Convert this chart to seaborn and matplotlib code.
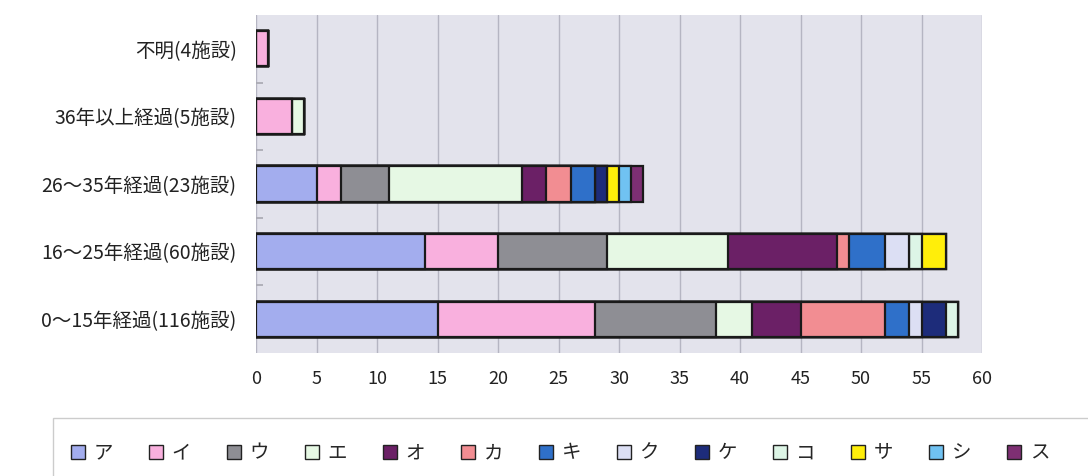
import matplotlib
matplotlib.use("Agg")
import matplotlib.pyplot as plt
import matplotlib.patches as mpatches
import seaborn as sns
import pandas as pd
import numpy as np

sns.set_style("white")
plt.rcParams['font.family'] = ['Noto Sans CJK JP', 'DejaVu Sans']

categories = ["不明(4施設)", "36年以上経過(5施設)", "26～35年経過(23施設)",
              "16～25年経過(60施設)", "0～15年経過(116施設)"]
series = ["ア", "イ", "ウ", "エ", "オ", "カ", "キ", "ク", "ケ", "コ", "サ", "シ", "ス"]
colors = ["#A3ADEE", "#F9B0DE", "#8E8E94", "#E6F8E4", "#6B2066", "#F28D92",
          "#2F70C9", "#DCDFF4", "#1D2C7A", "#DDF5E6", "#FFEE0A", "#70C2F2", "#7E2F73"]

# values per series, in category order
v_a = [0, 0, 5, 14, 15]
v_i = [1, 3, 2, 6, 13]
v_u = [0, 0, 4, 9, 10]
v_e = [0, 1, 11, 10, 3]
v_o = [0, 0, 2, 9, 4]
v_ka = [0, 0, 2, 1, 7]
v_ki = [0, 0, 2, 3, 2]
v_ku = [0, 0, 0, 2, 1]
v_ke = [0, 0, 1, 0, 2]
v_ko = [0, 0, 0, 1, 1]
v_sa = [0, 0, 1, 2, 0]
v_shi = [0, 0, 1, 0, 0]
v_su = [0, 0, 1, 0, 0]
values = [v_a, v_i, v_u, v_e, v_o, v_ka, v_ki, v_ku, v_ke, v_ko, v_sa, v_shi, v_su]

cum = np.cumsum(np.array(values), axis=0)

fig = plt.figure(figsize=(10.88, 4.76), dpi=100)
ax = fig.add_axes([256/1088, 1-353/476, (982-256)/1088, (353-15)/476])
ax.set_facecolor("#E3E3EC")

for i in range(len(series) - 1, -1, -1):
    df = pd.DataFrame({"cat": categories, "val": cum[i]})
    sns.barplot(data=df, x="val", y="cat", orient="h", color=colors[i],
                saturation=1, width=0.52, edgecolor="#1a1a1a", linewidth=1.6,
                ax=ax, zorder=3)

ax.set_xlim(0, 60)
ax.set_xticks(range(0, 61, 5))
ax.xaxis.grid(True, color="#B5B5C2", linewidth=1.0, zorder=0)
ax.set_axisbelow(True)
for s in ax.spines.values():
    s.set_visible(False)
ax.set_xlabel("")
ax.set_ylabel("")
ax.tick_params(axis="x", length=0, labelsize=13, colors="#222222", pad=12)
ax.tick_params(axis="y", length=0, labelsize=14, colors="#222222", pad=14)
# small separators on left between categories
ax.set_yticks([0.5, 1.5, 2.5, 3.5], minor=True)
ax.tick_params(axis="y", which="minor", left=True, length=5, width=1.2,
               color="#A8A8B0", direction="in")

# legend frame
frame = mpatches.Rectangle((53/1088, -0.05), 1.0, (476-418)/476 + 0.05,
                           transform=fig.transFigure, facecolor="white",
                           edgecolor="#CCCCCC", linewidth=1.0)
fig.add_artist(frame)

handles = [mpatches.Patch(facecolor=c, edgecolor="#222222", linewidth=1.0, label=s)
           for s, c in zip(series, colors)]
leg = fig.legend(handles=handles, loc="center left", bbox_to_anchor=(71/1088, 1-453/476),
                 ncol=13, frameon=False, fontsize=14, handlelength=0.7,
                 handleheight=0.7, handletextpad=0.45, columnspacing=1.86,
                 borderaxespad=0, borderpad=0)

fig.savefig("out.png", dpi=100)
